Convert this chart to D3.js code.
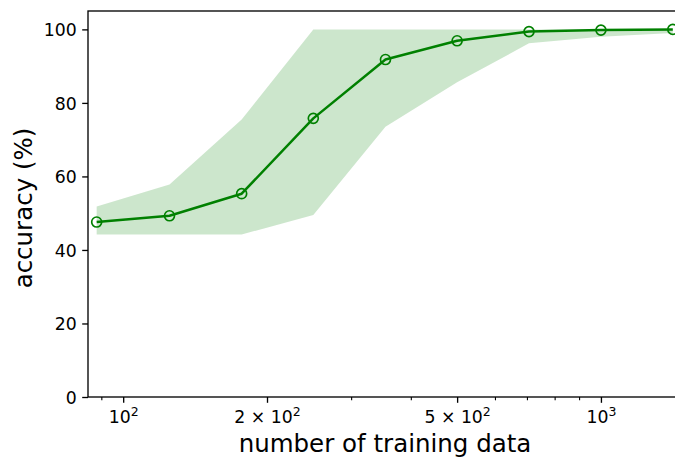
<!DOCTYPE html>
<html>
<head>
<meta charset="utf-8">
<script src="https://cdn.jsdelivr.net/npm/d3@7"></script>
<style>
  html, body { margin: 0; padding: 0; background: #fff; }
  svg { display: block; font-family: "DejaVu Sans", sans-serif; }
</style>
</head>
<body>
<svg id="chart" width="675" height="458"></svg>
<script>
// Training-set sizes (log axis) and accuracy statistics
const trainSizes = [88, 125, 177, 250, 354, 500, 707, 1000, 1414];
const meanAcc    = [47.6, 49.3, 55.3, 75.8, 91.8, 96.9, 99.4, 99.8, 100.0];
const upperAcc   = [51.8, 57.8, 75.5, 100, 100, 100, 100, 100, 100];
const lowerAcc   = [44.2, 44.2, 44.2, 49.5, 73.5, 85.6, 96.2, 98.0, 99.0];

const yTicks = [0, 20, 40, 60, 80, 100];
const xMajorTicks = [100, 200, 500, 1000];
const xMajorLabels = [["", "10", "2"], ["2 × ", "10", "2"], ["5 × ", "10", "2"], ["", "10", "3"]];
const xMinorTicks = [90, 300, 400, 600, 700, 800, 900];

const svg = d3.select("#chart");
const plotLeft = 88, plotRight = 682, plotTop = 11, plotBottom = 397;

const x = d3.scaleLog().domain([84.4, 1478]).range([plotLeft, plotRight]);
const y = d3.scaleLinear().domain([0, 105]).range([plotBottom, plotTop]);

const rows = trainSizes.map((n, i) => ({ n, m: meanAcc[i], lo: lowerAcc[i], hi: upperAcc[i] }));

const plot = svg.append("g");

// spread band
plot.append("path")
  .datum(rows)
  .attr("fill", "rgb(0,128,0)")
  .attr("fill-opacity", 0.2)
  .attr("d", d3.area().x(d => x(d.n)).y0(d => y(d.lo)).y1(d => y(d.hi)));

// mean line
plot.append("path")
  .datum(rows)
  .attr("fill", "none")
  .attr("stroke", "#008000")
  .attr("stroke-width", 2.5)
  .attr("stroke-linejoin", "round")
  .attr("d", d3.line().x(d => x(d.n)).y(d => y(d.m)));

// open circle markers
plot.selectAll("circle.pt")
  .data(rows)
  .join("circle")
  .attr("class", "pt")
  .attr("cx", d => x(d.n))
  .attr("cy", d => y(d.m))
  .attr("r", 5)
  .attr("fill", "none")
  .attr("stroke", "#008000")
  .attr("stroke-width", 1.67);

// axes
const axisColor = "#000";
const tickFont = "17.3px";
const yAxis = svg.append("g")
  .attr("transform", `translate(${plotLeft},0)`)
  .call(d3.axisLeft(y).tickValues(yTicks).tickSize(5.8).tickPadding(5.5).tickFormat(d3.format("d")));
yAxis.select(".domain").remove();
yAxis.selectAll(".tick line").attr("stroke", axisColor).attr("stroke-width", 1.33);
yAxis.selectAll(".tick text")
  .attr("font-size", tickFont)
  .attr("font-family", "DejaVu Sans, sans-serif")
  .attr("fill", "#000")
  .attr("dy", "0.36em");

const xAxis = svg.append("g")
  .attr("transform", `translate(0,${plotBottom})`)
  .call(d3.axisBottom(x).tickValues(xMajorTicks).tickSize(5.8).tickPadding(5.5).tickFormat(() => ""));
xAxis.select(".domain").remove();
xAxis.selectAll(".tick line").attr("stroke", axisColor).attr("stroke-width", 1.33);
xAxis.selectAll(".tick text").each(function(d, i) {
  const t = d3.select(this)
    .text(null)
    .attr("y", 26.3)
    .attr("dy", null)
    .attr("font-size", tickFont)
    .attr("font-family", "DejaVu Sans, sans-serif")
    .attr("fill", "#000");
  const parts = xMajorLabels[i];
  t.append("tspan").text(parts[0] + parts[1]);
  t.append("tspan").text(parts[2]).attr("font-size", "12.5px").attr("dy", "-6.9");
});

const xMinor = svg.append("g")
  .attr("transform", `translate(0,${plotBottom})`)
  .call(d3.axisBottom(x).tickValues(xMinorTicks).tickSize(3.3).tickFormat(() => ""));
xMinor.select(".domain").remove();
xMinor.selectAll(".tick line").attr("stroke", axisColor).attr("stroke-width", 1.1);

// spines
svg.append("rect")
  .attr("x", plotLeft).attr("y", plotTop)
  .attr("width", plotRight - plotLeft).attr("height", plotBottom - plotTop)
  .attr("fill", "none")
  .attr("stroke", "#000")
  .attr("stroke-width", 1.33);

// axis titles
svg.append("text")
  .attr("x", (plotLeft + plotRight) / 2)
  .attr("y", 452)
  .attr("text-anchor", "middle")
  .attr("font-size", "24.5px")
  .attr("fill", "#000")
  .text("number of training data");

svg.append("text")
  .attr("transform", `translate(32,${(plotTop + plotBottom) / 2 + 4}) rotate(-90)`)
  .attr("text-anchor", "middle")
  .attr("font-size", "24.5px")
  .attr("fill", "#000")
  .text("accuracy (%)");
</script>
</body>
</html>
